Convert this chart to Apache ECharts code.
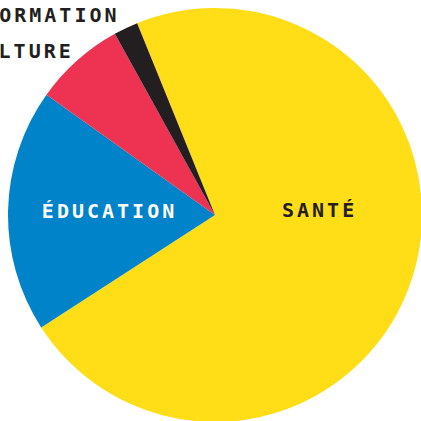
<!DOCTYPE html>
<html>
<head>
<meta charset="utf-8">
<script src="https://cdn.jsdelivr.net/npm/echarts@6/dist/echarts.min.js"></script>
<style>
    html, body { margin: 0; padding: 0; background: #fff; }
    #chart { width: 421px; height: 421px; }
    /* espacement des lettres des étiquettes */
    #chart text { letter-spacing: 3px; }
</style>
</head>
<body>
<div id="chart"></div>
<script>
// secteurs, dans le sens horaire
var categories = ["SANTÉ", "ÉDUCATION", "CULTURE", "INFORMATION"];
var values = [72, 19, 7.1, 1.9];
var colors = ["#ffdd17", "#0083c9", "#ee3352", "#231f20"];

// réglages des étiquettes par secteur
var labelStyles = [
    { position: "inside", color: "#231f20", offset: [3, -37] },
    { position: "inside", color: "#ffffff", offset: [1, -2] },
    { position: "outside", color: "#231f20", offset: [10, 0], lineLen: 12.7 },
    { position: "outside", color: "#231f20", offset: [5, 0], lineLen: 14.6 }
];

var myChart = echarts.init(document.getElementById("chart"), null, { renderer: "svg" });

var seriesData = categories.map(function (name, i) {
    var ls = labelStyles[i];
    var item = {
        name: name,
        value: values[i],
        itemStyle: { color: colors[i] },
        label: {
            position: ls.position,
            color: ls.color,
            offset: ls.offset
        }
    };
    if (ls.lineLen) {
        item.labelLine = { show: false, length: ls.lineLen, length2: 0 };
    }
    return item;
});

myChart.setOption({
    animation: false,
    series: [
        {
            type: "pie",
            center: [215, 215],
            radius: 207,
            startAngle: 112.1,
            clockwise: true,
            avoidLabelOverlap: false,
            itemStyle: { borderWidth: 0 },
            label: {
                show: true,
                formatter: "{b}",
                fontFamily: "DejaVu Sans Mono",
                fontWeight: "bold",
                fontSize: 20,
                overflow: "none"
            },
            labelLine: { show: false },
            emphasis: { disabled: true },
            data: seriesData
        }
    ]
});
</script>
</body>
</html>
